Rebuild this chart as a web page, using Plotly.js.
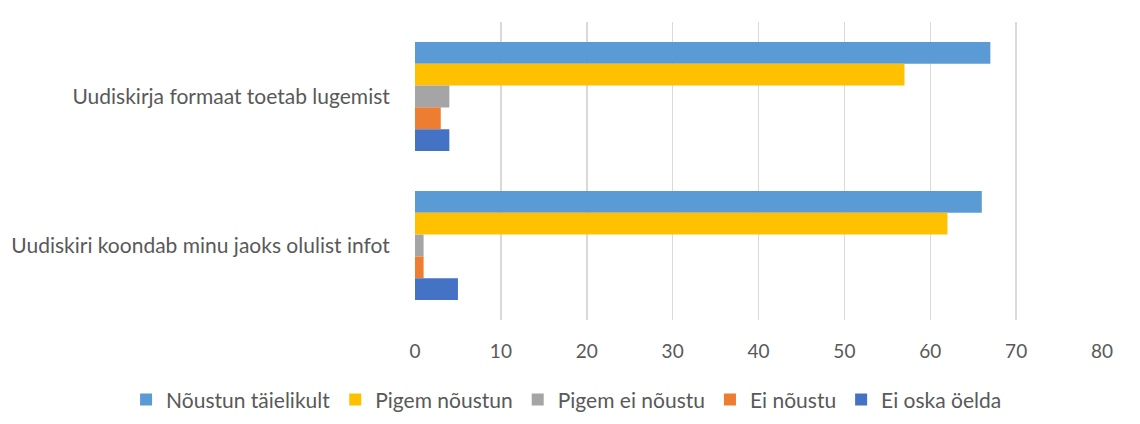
<!DOCTYPE html>
<html><head><meta charset="utf-8">
<script src="https://cdn.plot.ly/plotly-3.0.1.min.js"></script>
<style>html,body{margin:0;padding:0;background:#fff}#chart{width:1140px;height:424px}</style>
</head><body><div id="chart"></div>
<script>
var categories = ["Uudiskirja formaat toetab lugemist", "Uudiskiri koondab minu jaoks olulist infot"];
var seriesNames = ["Nõustun täielikult", "Pigem nõustun", "Pigem ei nõustu", "Ei nõustu", "Ei oska öelda"];
var seriesColors = ["#5B9BD5", "#FFC000", "#A5A5A5", "#ED7D31", "#4472C4"];
var valuesNoustunTaielikult = [67, 66];
var valuesPigemNoustun = [57, 62];
var valuesPigemEiNoustu = [4, 1];
var valuesEiNoustu = [3, 1];
var valuesEiOskaOelda = [4, 5];
var xTicks = [0, 10, 20, 30, 40, 50, 60, 70, 80];

var allValues = [valuesNoustunTaielikult, valuesPigemNoustun, valuesPigemEiNoustu, valuesEiNoustu, valuesEiOskaOelda];
var traces = seriesNames.map(function(n, i){
  return {type:'bar', orientation:'h', name:n, y:categories, x:allValues[i],
    marker:{color:seriesColors[i]}, hoverinfo:'x+name'};
});
var fam = 'Lato, "Open Sans", sans-serif';
var layout = {
  width:1140, height:424,
  margin:{l:0, r:0, t:22, b:104, autoexpand:false},
  barmode:'group', bargap:0.27, bargroupgap:0,
  font:{family:fam, color:'#595959', size:18},
  paper_bgcolor:'#fff', plot_bgcolor:'#fff',
  xaxis:{domain:[415/1140, 1102/1140], range:[0,80], tickvals:xTicks, showgrid:true, gridcolor:'#D9D9D9', gridwidth:1.5,
    zeroline:false, showline:false, ticks:'outside', ticklen:14, tickcolor:'rgba(0,0,0,0)',
    tickfont:{family:fam, color:'#595959', size:19}},
  yaxis:{autorange:'reversed', showgrid:false, zeroline:false, showline:false,
    ticks:'outside', ticklen:20, tickcolor:'rgba(0,0,0,0)',
    tickfont:{family:fam, color:'#595959', size:21}},
  legend:{orientation:'h', x:0.497, xanchor:'center', y:-0.268, yanchor:'middle',
    font:{family:fam, color:'#595959', size:21}, itemwidth:30, traceorder:'normal'},
  showlegend:true
};
Plotly.newPlot('chart', traces, layout, {displayModeBar:false, staticPlot:true});
</script></body></html>
